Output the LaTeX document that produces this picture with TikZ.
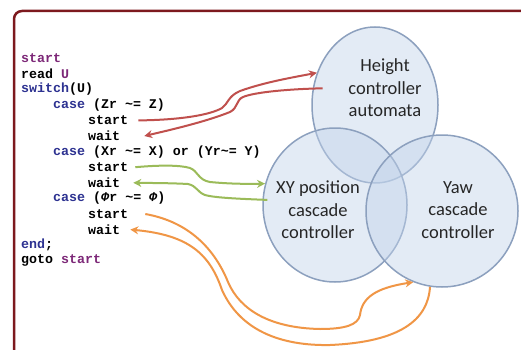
\documentclass[tikz,border=0pt]{standalone}
\usepackage{fontspec}
\setmainfont{Carlito}
\setmonofont{Liberation Mono}
\usepackage{xcolor}
\usetikzlibrary{shapes.geometric,arrows.meta,positioning}
\definecolor{framered}{RGB}{125,25,30}
\definecolor{kwpurple}{RGB}{125,40,120}
\definecolor{kwblue}{RGB}{45,50,145}
\definecolor{callred}{RGB}{192,80,77}
\definecolor{callgreen}{RGB}{155,187,89}
\definecolor{callorange}{RGB}{240,150,70}
\definecolor{vennfill}{RGB}{195,212,235}
\definecolor{venndraw}{RGB}{140,160,190}
\tikzset{
      code/.style     = {anchor=west, inner sep=0pt, font=\fontsize{13.3}{15.6}\selectfont\ttfamily\bfseries},
      venn/.style     = {ellipse, draw=venndraw, line width=1.5pt, fill=vennfill, fill opacity=0.45, inner sep=0pt},
      vennlabel/.style = {align=center, text=black!85, font=\fontsize{18.5}{22.5}\selectfont},
      redcall/.style    = {callred, line width=2pt, ->, >={Stealth[length=8pt,width=8pt]}},
      greencall/.style  = {callgreen, line width=2pt, ->, >={Stealth[length=8pt,width=8pt]}},
      orangecall/.style = {callorange, line width=2pt, ->, >={Stealth[length=8pt,width=8pt]}},
    }
\newcommand{\kwp}[1]{\textcolor{kwpurple}{#1}}
\newcommand{\kwb}[1]{\textcolor{kwblue}{#1}}
\newcommand{\noteq}{\textasciitilde=}
\newcommand{\yawang}{\textit{Φ}}

\begin{document}
\begin{tikzpicture}[x=1pt,y=-1pt]
        \clip (0,0) rectangle (521,350);
        \fill[white] (0,0) rectangle (521,350);
        \draw[framered, line width=2.5pt, rounded corners=8pt] (14,11) rectangle (580,400);

        % the three controllers
        \node[venn, minimum width=126pt, minimum height=156pt] (hc) at (375,105) {};
        \node[venn, minimum width=144pt, minimum height=154pt] (xy) at (335,205) {};
        \node[venn, minimum width=152pt, minimum height=152pt] (yaw) at (442,211) {};
        \node[vennlabel] (hctext) at (385,88) {Height\\controller\\automata};
        \node[vennlabel] (xytext) at (318,210) {XY position\\cascade\\controller};
        \node[vennlabel] (yawtext) at (458,210) {Yaw\\cascade\\controller};

        % the program
        \node[code] (l1) at (21,58) {\kwp{start}};
        \node[code] (l2) at (21,73.6) {read \kwp{U}};
        \node[code] (l3) at (21,89.2) {\kwb{switch}(U)};
        \node[code] (l4) at (53,104.8) {\kwb{case} (Zr \noteq{} Z)};
        \node[code] (l5) at (88,120.4) {start};
        \node[code] (l6) at (88,136) {wait};
        \node[code] (l7) at (53,151.6) {\kwb{case} (Xr \noteq{} X) or (Yr\noteq{} Y)};
        \node[code] (l8) at (88,167.2) {start};
        \node[code] (l9) at (88,182.8) {wait};
        \node[code] (l10) at (53,198.4) {\kwb{case} (\yawang{}r \noteq{} \yawang)};
        \node[code] (l11) at (88,214) {start};
        \node[code] (l12) at (88,229.6) {wait};
        \node[code] (l13) at (21,245.2) {\kwb{end};};
        \node[code] (l14) at (21,260.8) {goto \kwp{start}};

        \draw[redcall] ([xshift=10pt]l5.east) .. controls (180,120) and (210,115) .. (222,108)
              .. controls (228,104) and (228,96) .. (240,91) .. controls (265,82) and (295,77) .. (hc.151);
        \draw[redcall] ([xshift=10pt]hc.165) .. controls (290,89) and (255,92) .. (243,97)
              .. controls (236,100) and (238,108) .. (230,112) .. controls (205,122) and (170,130) .. ([xshift=24pt]l6.east);
        \draw[greencall] ([xshift=7pt]l8.east) .. controls (160,165) and (180,165) .. (190,168)
              .. controls (198,171) and (198,180) .. (210,182) .. controls (230,184) and (250,184) .. (xy.163);
        \draw[greencall] ([xshift=5pt]xy.176) .. controls (245,199) and (215,198) .. (205,195)
              .. controls (197,192) and (197,186) .. (188,184) .. controls (170,183) and (150,183) .. ([xshift=13pt]l9.east);
        \draw[orangecall] ([xshift=17pt]l11.east) .. controls (190,222) and (215,250) .. (228,282)
              .. controls (240,310) and (270,328) .. (320,329) .. controls (345,329) and (358,325) .. (360,315)
              .. controls (362,298) and (375,288) .. (yaw.248);
        \draw[orangecall] (yaw.261) .. controls (428,320) and (400,342) .. (330,345)
              .. controls (280,346) and (240,330) .. (222,290) .. controls (210,255) and (190,235) .. ([xshift=10pt]l12.east);
\end{tikzpicture}
\end{document}
